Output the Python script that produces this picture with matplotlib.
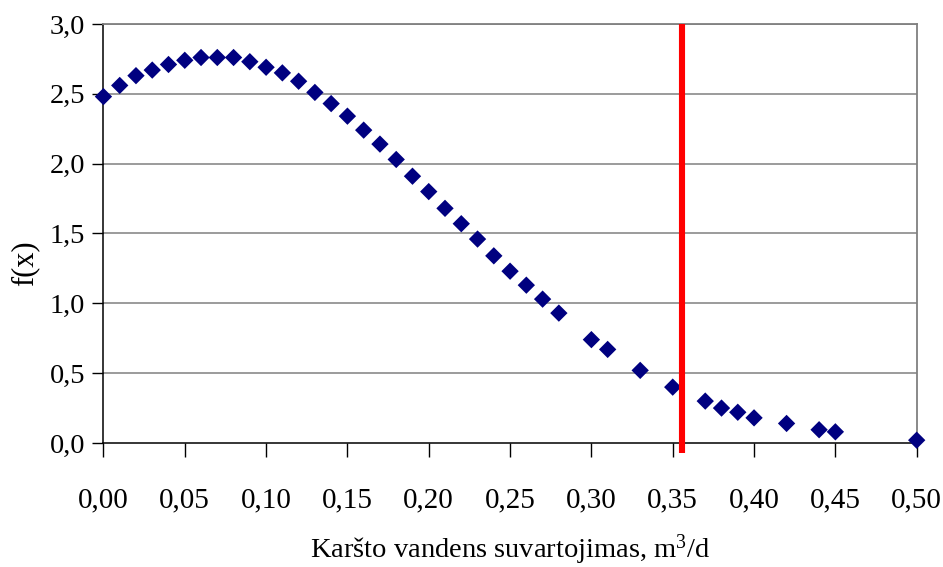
import matplotlib
matplotlib.use("Agg")
import matplotlib.pyplot as plt

plt.rcParams['font.family'] = ['Liberation Serif', 'DejaVu Serif']
plt.rcParams['mathtext.fontset'] = 'custom'
plt.rcParams['mathtext.rm'] = 'Liberation Serif'
plt.rcParams['mathtext.it'] = 'Liberation Serif:italic'

# Hot water consumption (m3/d) and the fitted density f(x)
consumption = [0.00, 0.01, 0.02, 0.03, 0.04, 0.05, 0.06, 0.07, 0.08, 0.09,
               0.10, 0.11, 0.12, 0.13, 0.14, 0.15, 0.16, 0.17, 0.18, 0.19,
               0.20, 0.21, 0.22, 0.23, 0.24, 0.25, 0.26, 0.27, 0.28, 0.30,
               0.31, 0.33, 0.35, 0.37, 0.38, 0.39, 0.40, 0.42, 0.44, 0.45,
               0.50]
density = [2.48, 2.56, 2.63, 2.67, 2.71, 2.74, 2.76, 2.76, 2.76, 2.73,
           2.69, 2.65, 2.59, 2.51, 2.43, 2.34, 2.24, 2.14, 2.03, 1.91,
           1.80, 1.68, 1.57, 1.46, 1.34, 1.23, 1.13, 1.03, 0.93, 0.74,
           0.67, 0.52, 0.40, 0.30, 0.25, 0.22, 0.18, 0.14, 0.095, 0.08,
           0.02]

# Vertical marker for the design consumption value
threshold = 0.356

x_ticks = [0.00, 0.05, 0.10, 0.15, 0.20, 0.25, 0.30, 0.35, 0.40, 0.45, 0.50]
y_ticks = [0.0, 0.5, 1.0, 1.5, 2.0, 2.5, 3.0]

fig = plt.figure(figsize=(9.43, 5.67), dpi=100)
ax = fig.add_axes([0.1097, 0.2187, 0.8624, 0.7390])

ax.set_xlim(0.0, 0.50)
ax.set_ylim(0.0, 3.0)

for yv in y_ticks[1:]:
    ax.axhline(yv, color='#808080', linewidth=1.1, zorder=1)

ax.scatter(consumption, density, marker='D', s=78, color='#000080',
           edgecolors='none', zorder=3, clip_on=False)

ax.plot([threshold, threshold], [-0.07, 3.0], color='#ff0000',
        linewidth=4.4, solid_capstyle='butt', zorder=4, clip_on=False)

ax.set_xticks(x_ticks)
ax.set_xticklabels([f"{v:.2f}".replace('.', ',') for v in x_ticks])
ax.set_yticks(y_ticks)
ax.set_yticklabels([f"{v:.1f}".replace('.', ',') for v in y_ticks])

ax.tick_params(axis='x', direction='out', length=10, width=1, pad=22,
               labelsize=21, color='black')
ax.tick_params(axis='y', direction='out', length=8, width=1, pad=5,
               labelsize=20.5, color='black')

for side in ('left', 'bottom'):
    ax.spines[side].set_color('black')
    ax.spines[side].set_linewidth(1.1)
for side in ('top', 'right'):
    ax.spines[side].set_color('#808080')
    ax.spines[side].set_linewidth(1.3)

ax.set_ylabel('f(x)', fontsize=22)
ax.yaxis.set_label_coords(-0.097, 0.43)
ax.set_xlabel(r'Karšto vandens suvartojimas, m$^{3}$/d', fontsize=20.5)
ax.xaxis.set_label_coords(0.5, -0.255)
ax.xaxis.label.set_va('center')
ax.yaxis.label.set_va('center')

fig.savefig('out.png', dpi=100)
